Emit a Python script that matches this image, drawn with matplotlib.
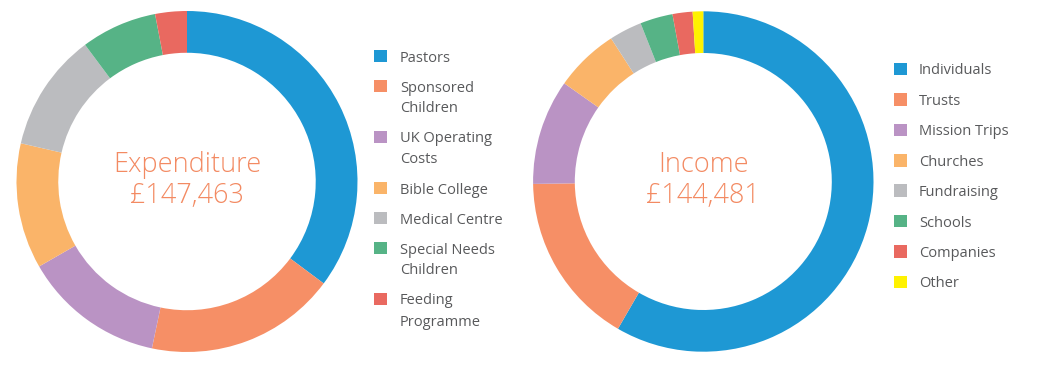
import matplotlib.pyplot as plt
from matplotlib.patches import Rectangle

W, H = 1038, 372

exp_labels = ["Pastors", "Sponsored\nChildren", "UK Operating\nCosts", "Bible College",
              "Medical Centre", "Special Needs\nChildren", "Feeding\nProgramme"]
exp_values = [35.2, 18.1, 13.4, 11.9, 11.2, 7.2, 3.0]
exp_total = "£147,463"

inc_labels = ["Individuals", "Trusts", "Mission Trips", "Churches",
              "Fundraising", "Schools", "Companies", "Other"]
inc_values = [58.3, 16.4, 10.0, 6.1, 3.1, 3.1, 1.9, 1.0]
inc_total = "£144,481"

colors = ["#1E98D4", "#F68F66", "#BA93C4", "#FAB469",
          "#BBBCBF", "#56B386", "#E96960", "#FFF200"]

plt.rcParams['font.family'] = ['Open Sans', 'DejaVu Sans']
text_col = "#58595B"
title_col = "#F38A62"

fig = plt.figure(figsize=(W / 100, H / 100), dpi=100)


def px_ax(cx, cy, r):
    # axes box in pixel units (y from top)
    return fig.add_axes([(cx - r) / W, (H - cy - r) / H, 2 * r / W, 2 * r / H])


def donut(cx, cy, r, values, title, total):
    ax = px_ax(cx, cy, r)
    ax.pie(values, colors=colors[:len(values)], startangle=90, counterclock=False,
           radius=1.0, wedgeprops=dict(width=0.245, linewidth=0))
    ax.set_xlim(-1, 1)
    ax.set_ylim(-1, 1)
    ax.axis("off")
    for txt, base in [(title, 172), (total, 203.5)]:
        fig.text(cx / W, 1 - base / H, txt, ha="center", va="baseline",
                 fontsize=19.5, color=title_col, fontweight="light")


def legend(x_box, x_txt, y0, labels, line_h=21, gap=30):
    y = y0
    for i, lab in enumerate(labels):
        fig.patches.append(Rectangle((x_box / W, 1 - (y + 6.3) / H), 12.6 / W, 12.6 / H,
                                     transform=fig.transFigure, color=colors[i], lw=0))
        lines = lab.split("\n")
        for j, ln in enumerate(lines):
            fig.text(x_txt / W, 1 - (y + j * line_h + 5.5) / H, ln, ha="left",
                     va="baseline", fontsize=10.5, color=text_col)
        y += (len(lines) - 1) * line_h + gap


donut(187, 181.5, 170.5, exp_values, "Expenditure", exp_total)
donut(703.3, 181.5, 170.2, inc_values, "Income", inc_total)

legend(374, 400, 56, exp_labels)
legend(894, 919, 69, inc_labels, gap=30.4)

fig.savefig("out.png", dpi=100, facecolor="white")
